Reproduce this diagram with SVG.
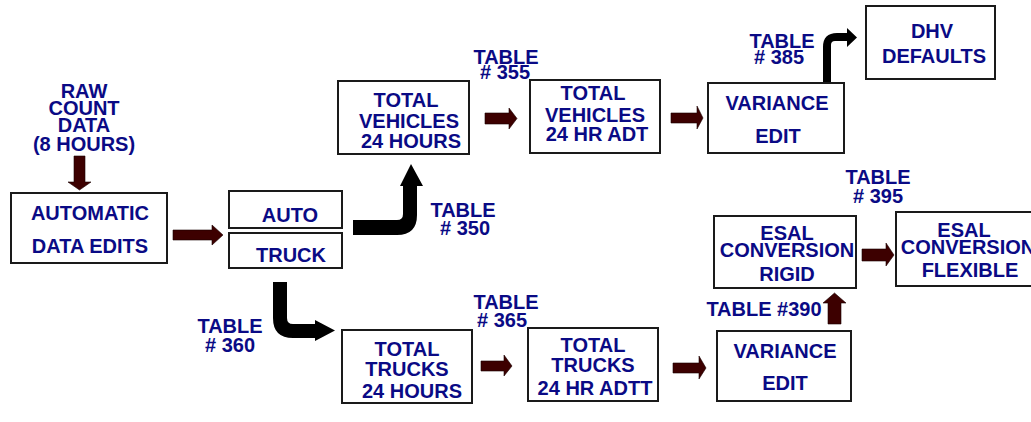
<svg xmlns="http://www.w3.org/2000/svg" width="1031" height="422" viewBox="0 0 1031 422">
<style>
text{font-family:"Liberation Sans",Arial,sans-serif;font-weight:bold;font-size:20px;fill:#0a0a85;text-anchor:middle}
.box{fill:#fff;stroke:#1a1a1a;stroke-width:2}
.ma{fill:#3d0000;stroke:#1a0000;stroke-width:0.6}
.ba{fill:#000}
</style>
<rect width="1031" height="422" fill="#fff"/>
<g id="connectors">
<polygon class="ma" points="74,156 85,156 85,182 91,182 79.5,190 68,182 74,182"/>
<polygon class="ma" points="173,230 212,230 212,225 223,235 212,245 212,240 173,240"/>
<polygon class="ma" points="485,113 509,113 509,108 517,118.5 509,129 509,124 485,124"/>
<polygon class="ma" points="671,113 697,113 697,106 703,118 697,129 697,123 671,123"/>
<polygon class="ma" points="481,361 504,361 504,355 512,366 504,376 504,371 481,371"/>
<polygon class="ma" points="673,363 699,363 699,356 706,368 699,379 699,373 673,373"/>
<polygon class="ma" points="862,249 886,249 886,243 894,255 886,266 886,261 862,261"/>
<polygon class="ma" points="828,324 828,303 823,303 834.5,293 846,303 841,303 841,324"/>
<path class="ba" d="M353,220 L397,220 Q403,220 403,214 L403,186 L400,186 L411,164 L423,186 L417,186 L417,215 Q417,235 397,235 L353,235 Z"/>
<path class="ba" d="M823,83 L823,47 Q823,33 837,33 L847,33 L847,28 L857,37.5 L847,47 L847,41 L835,41 Q831,41 831,45 L831,83 Z"/>
<path class="ba" d="M273,282 L273,318 Q273,338 293,338 L315,338 L315,341 L335,330.5 L315,320 L315,324 L293,324 Q287,324 287,318 L287,282 Z"/>
</g>
<g id="raw-count-data">
<text x="84" y="98">RAW</text>
<text x="84" y="115">COUNT</text>
<text x="84" y="132">DATA</text>
<text x="84" y="151">(8 HOURS)</text>
</g>
<g id="automatic-data-edits">
<rect class="box" x="11" y="193" width="156" height="70"/>
<text x="90" y="220">AUTOMATIC</text>
<text x="90" y="253">DATA EDITS</text>
</g>
<g id="auto">
<rect class="box" x="229" y="191" width="113" height="37"/>
<text x="290" y="222">AUTO</text>
</g>
<g id="truck">
<rect class="box" x="229" y="233" width="113" height="35"/>
<text x="291" y="262">TRUCK</text>
</g>
<g id="total-vehicles-24-hours">
<rect class="box" x="338" y="81" width="131" height="73"/>
<text x="406" y="107">TOTAL</text>
<text x="409" y="128">VEHICLES</text>
<text x="411" y="148">24 HOURS</text>
</g>
<g id="total-vehicles-24-hr-adt">
<rect class="box" x="530" y="80" width="130" height="73"/>
<text x="593" y="100">TOTAL</text>
<text x="595" y="122">VEHICLES</text>
<text x="597" y="141">24 HR ADT</text>
</g>
<g id="variance-edit-top">
<rect class="box" x="708" y="83" width="136" height="70"/>
<text x="777" y="110">VARIANCE</text>
<text x="778" y="143">EDIT</text>
</g>
<g id="dhv-defaults">
<rect class="box" x="866" y="6" width="129" height="73"/>
<text x="932" y="38">DHV</text>
<text x="934" y="63">DEFAULTS</text>
</g>
<g id="total-trucks-24-hours">
<rect class="box" x="342" y="330" width="130" height="73"/>
<text x="407" y="356">TOTAL</text>
<text x="407" y="376">TRUCKS</text>
<text x="412" y="398">24 HOURS</text>
</g>
<g id="total-trucks-24-hr-adtt">
<rect class="box" x="528" y="328" width="130" height="73"/>
<text x="593" y="352">TOTAL</text>
<text x="593" y="372">TRUCKS</text>
<text x="595" y="395">24 HR ADTT</text>
</g>
<g id="variance-edit-bottom">
<rect class="box" x="717" y="331" width="134" height="70"/>
<text x="785" y="358">VARIANCE</text>
<text x="785" y="390">EDIT</text>
</g>
<g id="esal-conversion-rigid">
<rect class="box" x="714" y="216" width="142" height="72"/>
<text x="787" y="240">ESAL</text>
<text x="787" y="257">CONVERSION</text>
<text x="787" y="281">RIGID</text>
</g>
<g id="esal-conversion-flexible">
<rect class="box" x="896" y="212" width="140" height="74"/>
<text x="964" y="237">ESAL</text>
<text x="968" y="254">CONVERSION</text>
<text x="970" y="277">FLEXIBLE</text>
</g>
<g id="labels">
<text x="506" y="64">TABLE</text>
<text x="505" y="79"># 355</text>
<text x="463" y="217">TABLE</text>
<text x="465" y="235"># 350</text>
<text x="782" y="48">TABLE</text>
<text x="779" y="64"># 385</text>
<text x="230" y="333">TABLE</text>
<text x="230" y="352"># 360</text>
<text x="506" y="309">TABLE</text>
<text x="502" y="327"># 365</text>
<text x="878" y="184">TABLE</text>
<text x="878" y="203"># 395</text>
<text x="764" y="316">TABLE #390</text>
</g>
</svg>
